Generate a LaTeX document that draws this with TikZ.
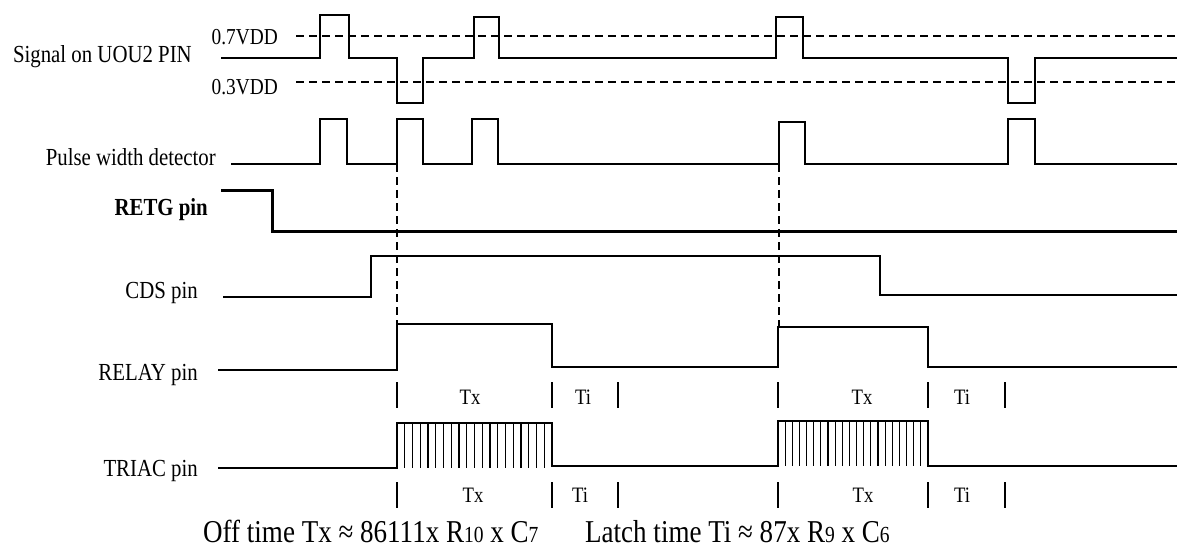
\documentclass[tikz,border=0pt]{standalone}
\usepackage{fontspec}
\setmainfont{Liberation Serif}[FakeStretch=0.85]
\begin{document}
\begin{tikzpicture}[x=1pt,y=-1pt,
  wave/.style={line width=1.5pt,line join=miter},
  thickwave/.style={line width=3pt},
  thr/.style={line width=1.5pt,dash pattern=on 8pt off 5pt},
  guide/.style={line width=1.5pt,dash pattern=on 8pt off 5pt},
  tick/.style={line width=1.8pt},
  hatch/.style={line width=1.2pt},
  lab/.style={anchor=base east,inner sep=0pt,font=\fontsize{24.5}{27}\selectfont},
  vdd/.style={anchor=base east,inner sep=0pt,font=\fontsize{22.8}{25}\selectfont},
  tlab/.style={inner sep=0pt,font=\fontsize{22}{24}\selectfont},
  form/.style={anchor=base west,inner sep=0pt,font=\fontsize{31.8}{34}\selectfont}]
\useasboundingbox (0,0) rectangle (1177,556);
\fill[white] (0,0) rectangle (1177,556);

% labels
\node[lab] (lsig) at (192,63) {Signal on UOU2 PIN};
\node[lab] (lpwd) at (216,166) {Pulse width detector};
\node[lab,font=\fontsize{24.5}{27}\selectfont\bfseries] (lretg) at (208,215) {RETG pin};
\node[lab] (lcds) at (198,298) {CDS pin};
\node[lab] (lrel) at (198,380) {RELAY pin};
\node[lab] (ltri) at (198,476) {TRIAC pin};
\node[vdd] (v7) at (278,45) {0.7VDD};
\node[vdd] (v3) at (278,95) {0.3VDD};

% threshold lines
\draw[thr] (296,36) -- (1177,36);
\draw[thr] (296,82) -- (1177,82);

% Signal on UOU2 PIN
\draw[wave] (221,58) -- (320,58) -- (320,15) -- (349,15) -- (349,58) -- (397,58)
  -- (397,103) -- (423,103) -- (423,58) -- (474,58) -- (474,17) -- (499,17) -- (499,58)
  -- (776,58) -- (776,17) -- (803,17) -- (803,58) -- (1008,58) -- (1008,103)
  -- (1035,103) -- (1035,58) -- (1177,58);

% Pulse width detector
\draw[wave] (231,164) -- (320,164) -- (320,119) -- (347,119) -- (347,164) -- (397,164)
  -- (397,119) -- (423,119) -- (423,164) -- (472,164) -- (472,119) -- (498,119) -- (498,164)
  -- (779,164) -- (779,122) -- (805,122) -- (805,164) -- (1008,164) -- (1008,119)
  -- (1035,119) -- (1035,164) -- (1177,164);

% RETG pin
\draw[thickwave] (221,191) -- (272,191) -- (272,231) -- (1177,231);

% CDS pin
\draw[wave] (223,297) -- (371,297) -- (371,256) -- (880,256) -- (880,295) -- (1177,295);

% RELAY pin
\draw[wave] (218,370) -- (397,370) -- (397,324) -- (552,324) -- (552,367) -- (778,367)
  -- (778,327) -- (928,327) -- (928,367) -- (1177,367);

% TRIAC pin
\draw[wave] (218,468) -- (397,468) -- (397,423) -- (552,423) -- (552,466) -- (778,466)
  -- (778,421) -- (928,421) -- (928,466) -- (1177,466);
\foreach \i in {1,...,19} {\draw[hatch] ({397+\i*155/20},423) -- ({397+\i*155/20},468);}
\foreach \i in {1,...,20} {\draw[hatch] ({778+\i*150/21},421) -- ({778+\i*150/21},466);}

% guide dashed lines
\coordinate (g1a) at (397,164); \coordinate (g1b) at (397,324);
\coordinate (g2a) at (779,164); \coordinate (g2b) at (779,327);
\draw[guide] (g1a) -- (g1b);
\draw[guide] (g2a) -- (g2b);

% tick rows
\foreach \x in {397,552,618,778,928,1005} {
  \draw[tick] (\x,382) -- (\x,408);
  \draw[tick] (\x,482) -- (\x,508);
}
\node[tlab] (tx1) at (470,397) {Tx};
\node[tlab] (ti1) at (583,397) {Ti};
\node[tlab] (tx2) at (862,397) {Tx};
\node[tlab] (ti2) at (962,397) {Ti};
\node[tlab] (tx3) at (473,495) {Tx};
\node[tlab] (ti3) at (580,495) {Ti};
\node[tlab] (tx4) at (863,495) {Tx};
\node[tlab] (ti4) at (962,495) {Ti};

% formulas
\node[form] (f1) at (203,542) {Off time Tx ≈ 86111x R{\fontsize{23}{25}\selectfont 10} x C{\fontsize{23}{25}\selectfont 7}};
\node[form] (f2) at (585,542) {Latch time Ti ≈ 87x R{\fontsize{23}{25}\selectfont 9} x C{\fontsize{23}{25}\selectfont 6}};
\end{tikzpicture}
\end{document}
